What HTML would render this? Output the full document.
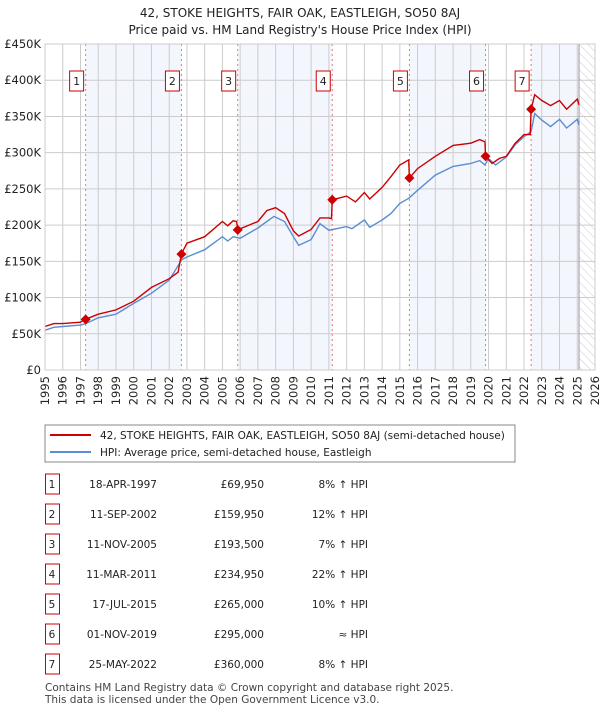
<!DOCTYPE html>
<html><head><meta charset="utf-8">
<style>
body{margin:0;background:#fff;font-family:"DejaVu Sans","Liberation Sans",sans-serif;}
svg text{font-family:"DejaVu Sans","Liberation Sans",sans-serif;}
</style></head>
<body>
<svg id="c" width="600" height="710" xmlns="http://www.w3.org/2000/svg">
<defs>
<pattern id="hatch" width="6" height="6" patternUnits="userSpaceOnUse" patternTransform="rotate(-45)">
<line x1="0" y1="0" x2="0" y2="6" stroke="#ccc" stroke-width="1"/>
</pattern>
<clipPath id="pc"><rect x="45" y="44" width="550" height="326"/></clipPath>
</defs>
<text x="300" y="17" text-anchor="middle" font-size="12" fill="#222">42, STOKE HEIGHTS, FAIR OAK, EASTLEIGH, SO50 8AJ</text>
<text x="300" y="34" text-anchor="middle" font-size="12" fill="#222">Price paid vs. HM Land Registry's House Price Index (HPI)</text>
<g id="plot"></g>
<g id="legend">
<rect x="45" y="425" width="470" height="37" fill="#fff" stroke="#888" stroke-width="1"/>
<line x1="50" y1="435" x2="91" y2="435" stroke="#cc0000" stroke-width="2"/>
<text x="100" y="439" font-size="10.5" fill="#222">42, STOKE HEIGHTS, FAIR OAK, EASTLEIGH, SO50 8AJ (semi-detached house)</text>
<line x1="50" y1="452" x2="91" y2="452" stroke="#5b8dd0" stroke-width="2"/>
<text x="100" y="456" font-size="10.5" fill="#222">HPI: Average price, semi-detached house, Eastleigh</text>
</g>
<g id="table"></g>
<text x="45" y="691" font-size="10.5" fill="#444">Contains HM Land Registry data © Crown copyright and database right 2025.</text>
<text x="45" y="703" font-size="10.5" fill="#444">This data is licensed under the Open Government Licence v3.0.</text>
</svg>
<script>
const hpiYears=[1995,1995.5,1996,1997,1997.3,1998,1999,2000,2001,2002,2002.7,2003,2004,2005,2005.3,2005.6,2006,2007,2007.9,2008.5,2009,2009.3,2010,2010.5,2011,2012,2012.3,2013,2013.3,2014,2014.5,2015,2015.5,2016,2017,2018,2019,2019.5,2019.8,2020,2020.4,2021,2021.5,2022,2022.4,2022.6,2023,2023.5,2024,2024.4,2025,2025.1];
const hpiValues=[55,59,60,62,64,72,77,92,106,124,152,156,166,184,178,184,182,196,212,205,184,172,180,202,193,198,195,207,197,207,216,230,237,248,269,281,285,289,283,292,283,294,311,322,329,354,345,336,346,334,346,338];
const priceYears=[1995,1995.5,1996,1997,1997.29,1998,1999,2000,2001,2002,2002.5,2002.69,2003,2004,2005,2005.3,2005.6,2005.8,2005.86,2006.5,2007,2007.5,2008,2008.5,2009,2009.3,2010,2010.5,2011,2011.15,2011.19,2012,2012.5,2013,2013.3,2014,2014.5,2015,2015.5,2015.54,2016,2017,2018,2019,2019.5,2019.8,2019.83,2020.2,2020.6,2021,2021.5,2022,2022.35,2022.4,2022.6,2023,2023.5,2024,2024.4,2025,2025.1];
const priceValues=[60,64,64,66,69.95,77,83,95,114,126,135,159.95,175,184,205,199,206,205,193.5,200,205,220,224,216,192,185,194,210,210,209,234.95,240,232,245,236,252,267,283,290,265,278,295,310,313,318,315,295,285,292,295,313,325,325,360,380,372,365,372,360,374,366];
const saleLabels=["1","2","3","4","5","6","7"];
const saleYears=[1997.29,2002.69,2005.86,2011.19,2015.54,2019.83,2022.4];
const salePrices=[69.95,159.95,193.5,234.95,265,295,360];
const saleDates=["18-APR-1997","11-SEP-2002","11-NOV-2005","11-MAR-2011","17-JUL-2015","01-NOV-2019","25-MAY-2022"];
const saleAmounts=["£69,950","£159,950","£193,500","£234,950","£265,000","£295,000","£360,000"];
const saleHpi=["8% ↑ HPI","12% ↑ HPI","7% ↑ HPI","22% ↑ HPI","10% ↑ HPI","≈ HPI","8% ↑ HPI"];
const yTicks=[0,50,100,150,200,250,300,350,400,450];
const yTickLabels=["£0","£50K","£100K","£150K","£200K","£250K","£300K","£350K","£400K","£450K"];
const xStart=1995,xEnd=2026,dataEnd=2025.1;

const NS="http://www.w3.org/2000/svg";
const L=45,R=595,T=44,B=370;
const xs=v=>L+(v-xStart)/(xEnd-xStart)*(R-L);
const ys=v=>B-v/450*(B-T);
const plot=document.getElementById('plot');
function mk(tag,attrs,parent){const e=document.createElementNS(NS,tag);for(const k in attrs)e.setAttribute(k,attrs[k]);(parent||plot).appendChild(e);return e;}

const bounds=saleYears.concat([dataEnd]);
for(let i=0;i<bounds.length-1;i+=2){
  const r=mk('rect',{x:xs(bounds[i]),y:T,width:xs(bounds[i+1])-xs(bounds[i]),height:B-T,fill:'#f3f6fd'});
  
  
}
const h=mk('rect',{x:xs(dataEnd),y:T,width:R-xs(dataEnd),height:B-T,fill:'url(#hatch)'});


for(let y=xStart;y<=xEnd;y++){
  const g=mk('line',{x1:xs(y),x2:xs(y),y1:T,y2:B,stroke:'#ccc','stroke-width':1});
  
  
  const t=mk('text',{x:0,y:0,'font-size':11.5,fill:'#222','text-anchor':'end',transform:`translate(${xs(y)+4},${B+6}) rotate(-90)`});
  t.textContent=y;
  
  
}
yTicks.forEach((v,i)=>{
  const g=mk('line',{x1:L,x2:R,y1:ys(v),y2:ys(v),stroke:'#ccc','stroke-width':1});
  
  
  const t=mk('text',{x:L-4,y:ys(v)+4,'font-size':11.5,fill:'#222','text-anchor':'end'});
  t.textContent=yTickLabels[i];
  
  
});
const ve=mk('line',{x1:xs(dataEnd),x2:xs(dataEnd),y1:T,y2:B,stroke:'#999','stroke-width':1});


saleYears.forEach((s,i)=>{
  const l=mk('line',{x1:xs(s),x2:xs(s),y1:T,y2:B,stroke:'#e87878','stroke-width':1,'stroke-dasharray':'2,3'});
  
  
  const bx=mk('rect',{x:xs(s)-16,y:71,width:14,height:20,fill:'#fff',stroke:'#cc0000','stroke-width':1});
  
  
  const t=mk('text',{x:xs(s)-9,y:85,'font-size':11,fill:'#222','text-anchor':'middle'});
  t.textContent=saleLabels[i];
  
  
});
const pts=(X,Y)=>X.map((x,i)=>xs(x).toFixed(1)+','+ys(Y[i]).toFixed(1)).join(' ');
const hl=mk('polyline',{points:pts(hpiYears,hpiValues),fill:'none',stroke:'#5b8dd0','stroke-width':1.4,'clip-path':'url(#pc)'});


const pl=mk('polyline',{points:pts(priceYears,priceValues),fill:'none',stroke:'#cc0000','stroke-width':1.4,'clip-path':'url(#pc)'});


saleYears.forEach((s,i)=>{
  const x=xs(s),y=ys(salePrices[i]);
  const d=mk('polygon',{points:`${x},${y-5} ${x+5},${y} ${x},${y+5} ${x-5},${y}`,fill:'#cc0000'});
  
  
});
const fr=mk('rect',{x:L,y:T,width:R-L,height:B-T,fill:'none',stroke:'#ccc','stroke-width':1});



const tb=document.getElementById('table');
saleLabels.forEach((lab,i)=>{
  const cy=484+i*30;
  const g=mk('g',{},tb);
  
  
  const r=mk('rect',{x:45.5,y:cy-10,width:14,height:20,fill:'#fff',stroke:'#cc0000','stroke-width':1},g);
  
  
  const cells=[[52,'middle',lab],[157,'end',saleDates[i]],[264,'end',saleAmounts[i]],[368,'end',saleHpi[i]]];
  cells.forEach(c=>{
    const t=mk('text',{x:c[0],y:cy+4,'font-size':10.5,fill:'#222','text-anchor':c[1]},g);
    t.textContent=c[2];
    
    
  });
});
</script>
</body></html>
